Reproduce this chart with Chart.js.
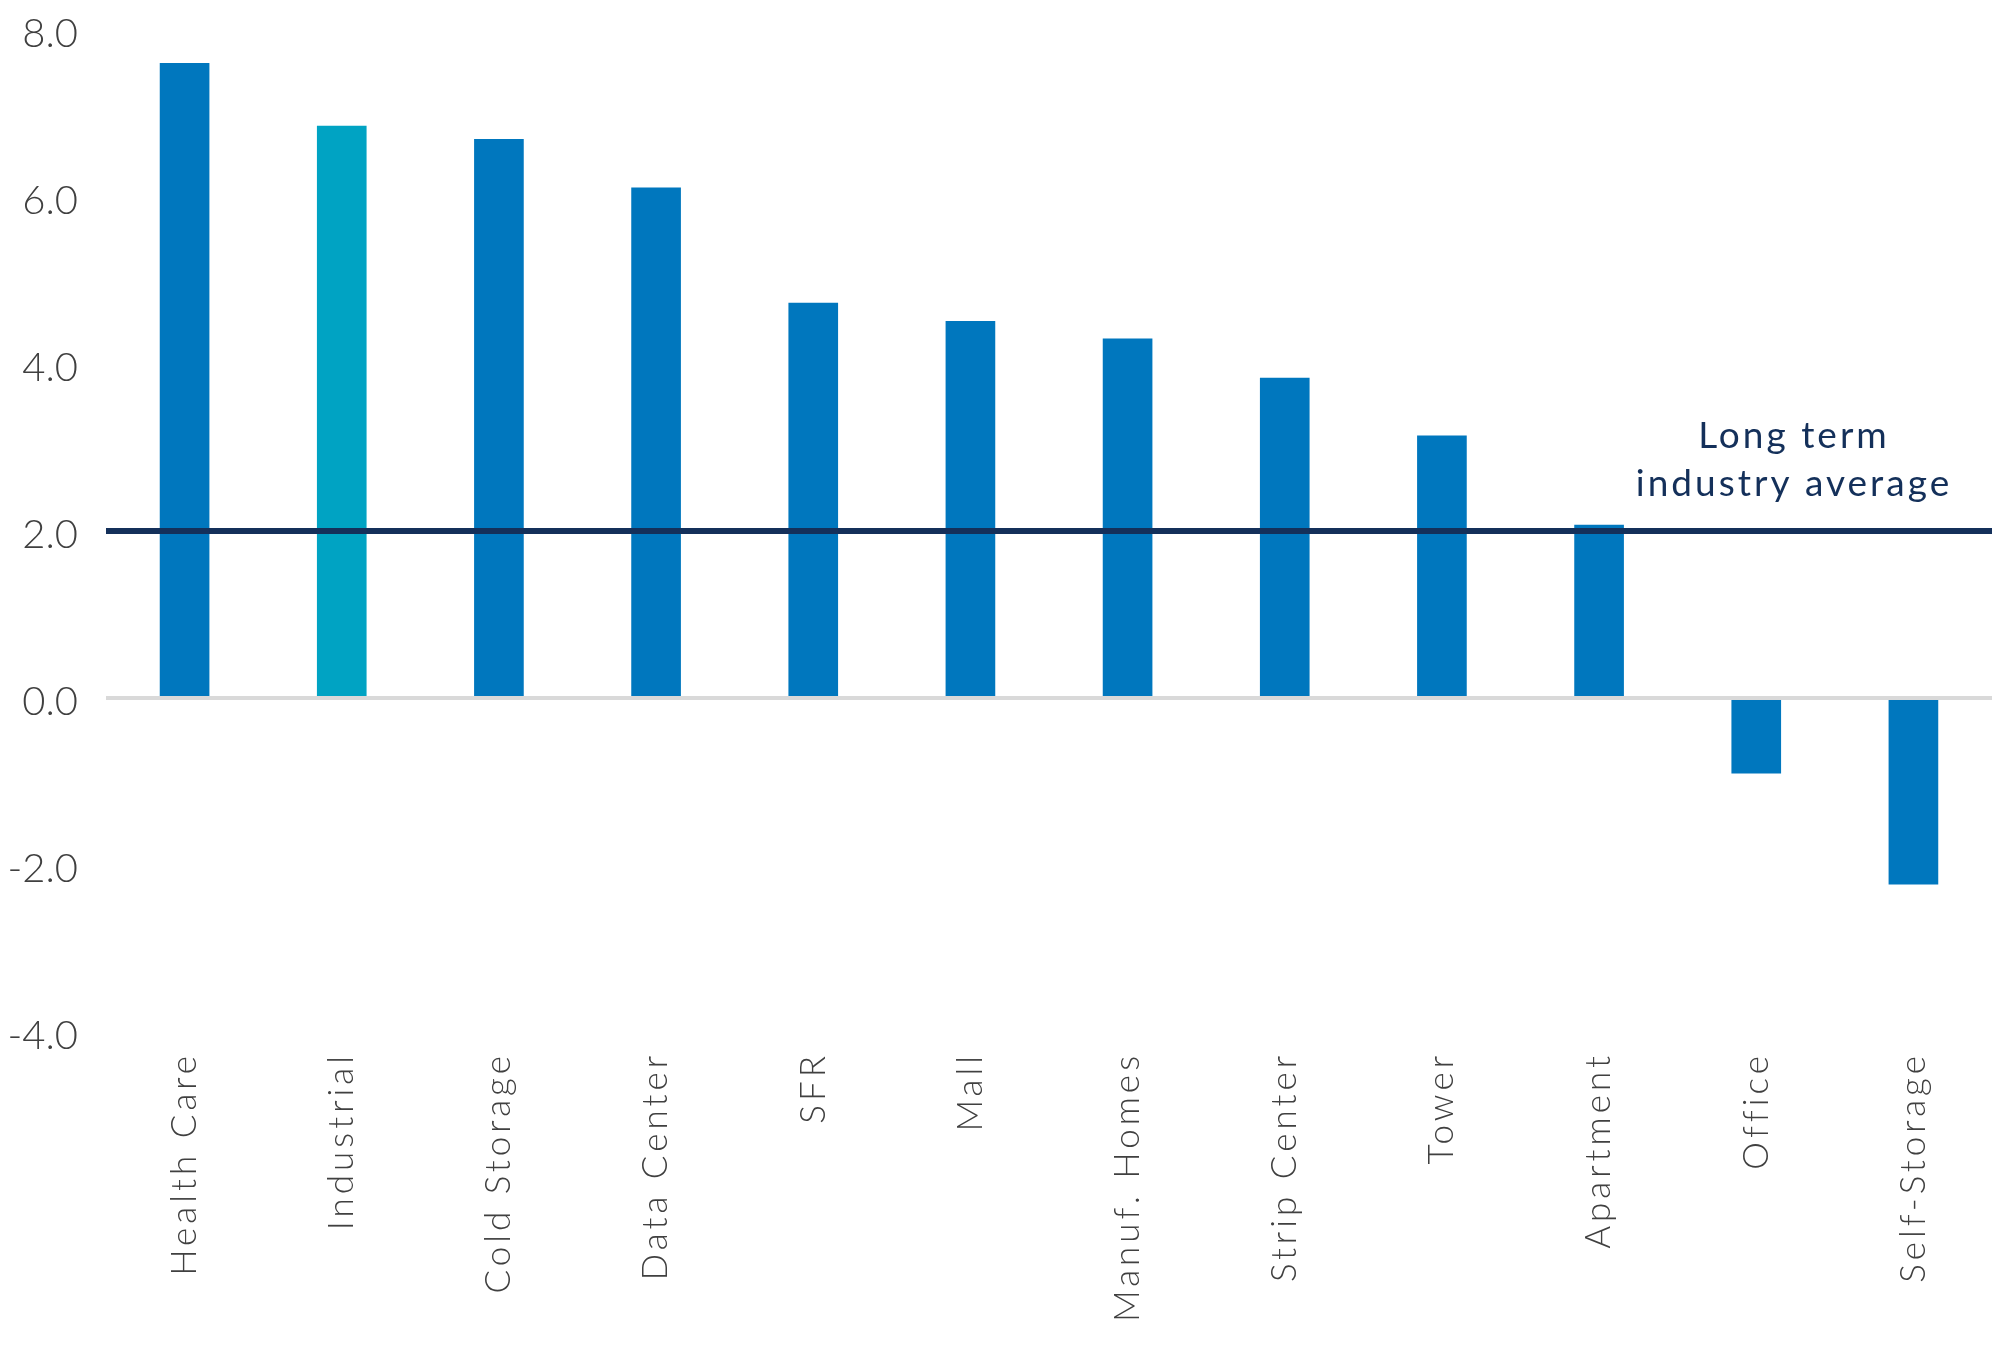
<!DOCTYPE html>
<html>
<head>
<meta charset="utf-8">
<script src="https://cdn.jsdelivr.net/npm/chart.js@4.4.1/dist/chart.umd.min.js"></script>
<style>
  html, body { margin: 0; padding: 0; background: #ffffff; }
  #wrap { width: 2000px; height: 1366px; }
</style>
</head>
<body>
<div id="wrap"><canvas id="c" width="2000" height="1366"></canvas></div>
<script>
const categories = ["Health Care", "Industrial", "Cold Storage", "Data Center", "SFR", "Mall",
  "Manuf. Homes", "Strip Center", "Tower", "Apartment", "Office", "Self-Storage"];
const values = [7.60, 6.85, 6.69, 6.11, 4.73, 4.51, 4.30, 3.83, 3.14, 2.07, -0.90, -2.23];
const barColors = ["#0077be", "#00a3c3", "#0077be", "#0077be", "#0077be", "#0077be",
  "#0077be", "#0077be", "#0077be", "#0077be", "#0077be", "#0077be"];
const averageValue = 2.0;
const averageLabel = ["Long term", "industry average"];
const yMin = -4, yMax = 8, yStep = 2;

// add letter tracking to category-axis labels
const origDrawLabels = Chart.CategoryScale.prototype.drawLabels;
Chart.CategoryScale.prototype.drawLabels = function (area) {
  const ctx = this.ctx;
  ctx.save();
  ctx.letterSpacing = '4px';
  origDrawLabels.call(this, area);
  ctx.restore();
};

const overlayPlugin = {
  id: 'overlay',
  afterDatasetsDraw(chart) {
    const ctx = chart.ctx, area = chart.chartArea, y = chart.scales.y;
    ctx.save();
    // zero line
    const y0 = y.getPixelForValue(0);
    ctx.strokeStyle = '#d9d9d9';
    ctx.lineWidth = 4;
    ctx.beginPath();
    ctx.moveTo(area.left, y0);
    ctx.lineTo(area.right, y0);
    ctx.stroke();
    // average line
    const ya = y.getPixelForValue(averageValue);
    ctx.strokeStyle = '#14305a';
    ctx.lineWidth = 6;
    ctx.beginPath();
    ctx.moveTo(area.left, ya);
    ctx.lineTo(area.right, ya);
    ctx.stroke();
    // label
    ctx.fillStyle = '#14305a';
    ctx.font = '400 37px Lato';
    ctx.letterSpacing = '3px';
    ctx.textAlign = 'center';
    ctx.textBaseline = 'middle';
    const cx = area.right - 198;
    ctx.fillText(averageLabel[0], cx, ya - 95);
    ctx.fillText(averageLabel[1], cx, ya - 47);
    ctx.restore();
  }
};

new Chart(document.getElementById('c'), {
  type: 'bar',
  data: {
    labels: categories,
    datasets: [{
      data: values,
      backgroundColor: barColors,
      borderWidth: 0,
      barThickness: 49
    }]
  },
  options: {
    responsive: false,
    devicePixelRatio: 1,
    animation: false,
    events: [],
    layout: { padding: { top: 30, right: 8, left: 0, bottom: 0 } },
    plugins: { legend: { display: false }, tooltip: { enabled: false } },
    scales: {
      x: {
        grid: { display: false, drawTicks: false },
        border: { display: false },
        ticks: {
          minRotation: 90, maxRotation: 90, autoSkip: false,
          padding: 20,
          color: '#404040',
          font: { family: 'Lato', size: 35, weight: '300' }
        },
        afterFit(scale) { scale.height = 334; scale.paddingLeft = 0; scale.paddingRight = 0; }
      },
      y: {
        min: yMin, max: yMax,
        grid: { display: false, drawTicks: false },
        border: { display: false },
        ticks: {
          stepSize: yStep,
          padding: 28,
          labelOffset: 4,
          color: '#404040',
          font: { family: 'Lato', size: 40, weight: '300' },
          callback: (v) => Number(v).toFixed(1)
        },
        afterFit(scale) { scale.width = 106; scale.paddingTop = 0; scale.paddingBottom = 0; }
      }
    }
  },
  plugins: [overlayPlugin]
});
</script>
</body>
</html>
